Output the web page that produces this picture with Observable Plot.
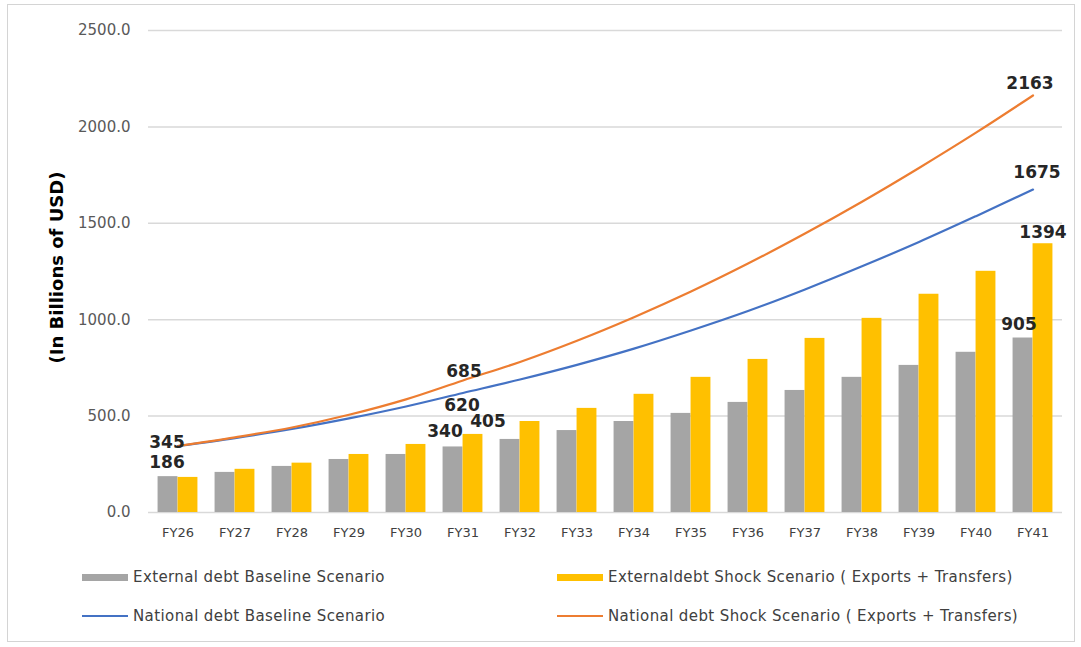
<!DOCTYPE html>
<html>
<head>
<meta charset="utf-8">
<script src="https://cdn.jsdelivr.net/npm/d3@7"></script>
<script src="https://cdn.jsdelivr.net/npm/@observablehq/plot@0.6"></script>
<style>
  html, body { margin: 0; padding: 0; background: #fff; }
  #wrap { position: relative; width: 1081px; height: 647px; overflow: hidden; font-family: "DejaVu Sans", sans-serif; }
  #frame { position: absolute; left: 7px; top: 4px; width: 1068px; height: 638px; border: 1px solid #d4d4d4; box-sizing: border-box; pointer-events: none; }
  #chart { position: absolute; left: 0; top: 0; }
  .legend { position: absolute; left: 0; top: 550px; width: 1081px; height: 90px; }
  .item { position: absolute; display: flex; align-items: center; font-size: 15px; letter-spacing: 0.4px; color: #404040; white-space: nowrap; }
  .sw-bar { width: 46px; height: 7px; margin-right: 5px; }
  .sw-line { width: 46px; height: 2px; margin-right: 5px; }
</style>
</head>
<body>
<div id="wrap">
  <div id="chart"></div>
  <div class="legend" id="legend"></div>
  <div id="frame"></div>
</div>
<script>
// Fiscal years on the category axis
const years = ["FY26","FY27","FY28","FY29","FY30","FY31","FY32","FY33","FY34","FY35","FY36","FY37","FY38","FY39","FY40","FY41"];

// External debt (bars), billions of USD
const extBaseline = [186, 208, 239, 275, 301, 340, 379, 425, 472, 514, 571, 633, 701, 763, 831, 905];
const extShock    = [182, 224, 256, 301, 353, 405, 472, 540, 613, 701, 794, 903, 1007, 1132, 1251, 1394];

// National debt (lines), billions of USD
const natBaseline = [345, 386, 433, 488, 550, 620, 690, 766, 850, 944, 1045, 1157, 1277, 1403, 1537, 1675];
const natShock    = [345, 390, 441, 507, 587, 685, 781, 891, 1013, 1146, 1291, 1447, 1612, 1787, 1970, 2163];

const yTicks = [0, 500, 1000, 1500, 2000, 2500];

const seriesNames = [
  "External debt Baseline Scenario",
  "Externaldebt Shock Scenario ( Exports + Transfers)",
  "National debt Baseline Scenario",
  "National debt Shock Scenario ( Exports + Transfers)"
];
const colors = { extBaseline: "#a5a5a5", extShock: "#ffc000", natBaseline: "#4472c4", natShock: "#ed7d31" };

const rows = years.map((fy, i) => ({
  fy,
  extBaseline: extBaseline[i],
  extShock: extShock[i],
  natBaseline: natBaseline[i],
  natShock: natShock[i]
}));

const W = 1081, H = 550;
const mL = 148, mR = 19, mT = 30, mB = 38;
const bw = (W - mL - mR) / years.length;   // band width per fiscal year
const half = bw / 2;
const outer = bw * 0.15;

// value label for one point of one series
const label = (arr, fy, dx, dy) => {
  const i = years.indexOf(fy);
  return Plot.text([i], {
    x: j => years[j], y: j => arr[j], text: j => String(arr[j]),
    dx, dy, fontSize: 17, fontWeight: "bold", fill: "#262626", textAnchor: "middle"
  });
};

const chart = Plot.plot({
  width: W, height: H,
  marginLeft: mL, marginRight: mR, marginTop: mT, marginBottom: mB,
  style: { fontFamily: "DejaVu Sans, sans-serif", background: "transparent" },
  x: { type: "band", domain: years, padding: 0, label: null },
  y: { domain: [0, 2500], label: null },
  marks: [
    Plot.gridY(yTicks, { stroke: "#d9d9d9", strokeOpacity: 1, strokeWidth: 1.5 }),
    Plot.axisY(yTicks, { tickSize: 0, tickPadding: 18, tickFormat: d => d.toFixed(1), fontSize: 15, fill: "#595959", label: null }),
    Plot.axisX({ tickSize: 0, tickPadding: 15, fontSize: 13, fill: "#404040", label: null }),
    Plot.text(["(In Billions of USD)"], { frameAnchor: "left", textAnchor: "middle", dx: -91, dy: -4, rotate: -90, fontSize: 18, fontWeight: "bold", fill: "#000", letterSpacing: 1 }),
    Plot.barY(rows, { x: "fy", y: "extBaseline", fill: colors.extBaseline, insetLeft: outer, insetRight: half }),
    Plot.barY(rows, { x: "fy", y: "extShock", fill: colors.extShock, insetLeft: half, insetRight: outer }),
    Plot.line(rows, { x: "fy", y: "natBaseline", stroke: colors.natBaseline, strokeWidth: 2.2, curve: "catmull-rom" }),
    Plot.line(rows, { x: "fy", y: "natShock", stroke: colors.natShock, strokeWidth: 2.2, curve: "catmull-rom" }),
    label(natShock, "FY26", -11, -3),
    label(extBaseline, "FY26", -11, -14),
    label(natShock, "FY31", 1, -9),
    label(natBaseline, "FY31", -1, 13),
    label(extBaseline, "FY31", -18, -15),
    label(extShock, "FY31", 25, -13),
    label(natShock, "FY41", -3, -12),
    label(natBaseline, "FY41", 4, -17),
    label(extShock, "FY41", 10, -11),
    label(extBaseline, "FY41", -14, -13)
  ]
});
document.getElementById("chart").appendChild(chart);

// Legend below the plot
const legendItems = [
  { name: seriesNames[0], color: colors.extBaseline, kind: "bar",  left: 82,  top: 28 },
  { name: seriesNames[1], color: colors.extShock,    kind: "bar",  left: 557, top: 28 },
  { name: seriesNames[2], color: colors.natBaseline, kind: "line", left: 82,  top: 67 },
  { name: seriesNames[3], color: colors.natShock,    kind: "line", left: 557, top: 67 }
];
const legend = document.getElementById("legend");
for (const it of legendItems) {
  const el = document.createElement("div");
  el.className = "item";
  el.style.left = it.left + "px";
  el.style.top = (it.top - 10) + "px";
  const sw = document.createElement("span");
  sw.className = it.kind === "bar" ? "sw-bar" : "sw-line";
  sw.style.background = it.color;
  const tx = document.createElement("span");
  tx.textContent = it.name;
  el.appendChild(sw);
  el.appendChild(tx);
  legend.appendChild(el);
}
</script>
</body>
</html>
